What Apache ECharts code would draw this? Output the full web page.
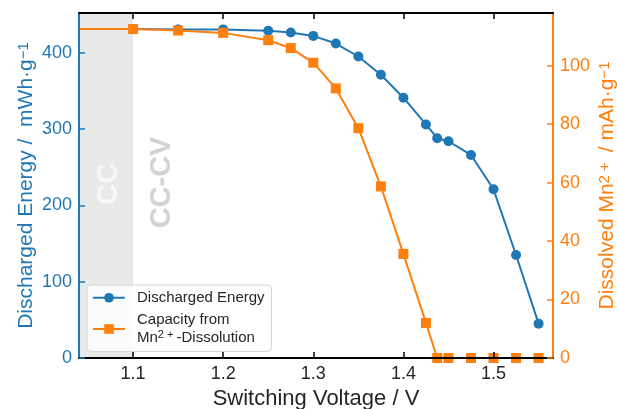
<!DOCTYPE html>
<html><head><meta charset="utf-8">
<script src="https://cdn.jsdelivr.net/npm/echarts@6/dist/echarts.min.js"></script>
<style>html,body{margin:0;padding:0;background:#fff}#c{width:617px;height:409px}</style>
</head><body><div id="c"></div>
<script>
// ---- data ----
const voltage    = [1.0, 1.1, 1.15, 1.2, 1.25, 1.275, 1.3, 1.325, 1.35, 1.375, 1.4, 1.425, 1.4375, 1.45, 1.475, 1.5, 1.525, 1.55];
const energy     = [431, 431, 430.5, 430.5, 428.8, 426.5, 422, 412, 395, 371, 341, 306, 288, 284, 266, 221, 135, 45];
const mnCapacity = [112.5, 112.5, 112, 111.2, 108.7, 106, 101, 92.2, 78.6, 58.7, 35.6, 12, 0, 0, 0, 0, 0, 0];
const xTicks      = [1.1, 1.2, 1.3, 1.4, 1.5];
const yLeftTicks  = [0, 100, 200, 300, 400];
const yRightTicks = [0, 20, 40, 60, 80, 100];
const seriesNames = ['Discharged Energy', 'Capacity from Mn2+-Dissolution'];
const ccRegion    = [1.04, 1.1];
const regionLabels = ['CC', 'CC-CV'];

const BLUE = '#1f77b4', ORANGE = '#ff7f0e', DARK = '#262626';
const FONT = 'Liberation Sans, Arial, sans-serif';
const X_MIN = 1.04, X_MAX = 1.566;

const chart = echarts.init(document.getElementById('c'), null, {renderer: 'canvas'});

function xAxisBase(pos) {
  return {
    type: 'value', min: X_MIN, max: X_MAX, position: pos, z: 5,
    axisLine: {show: true, onZero: false, lineStyle: {color: '#000', width: 2}},
    axisTick: {show: true, inside: true, length: 6, customValues: xTicks, lineStyle: {color: '#000', width: 1.5}},
    splitLine: {show: false}
  };
}

const option = {
  animation: false,
  backgroundColor: '#fff',
  grid: {left: 79, right: 64, top: 13, bottom: 51, containLabel: false, outerBoundsMode: 'none'},
  xAxis: [
    Object.assign(xAxisBase('bottom'), {
      axisLabel: {customValues: xTicks, margin: 7, fontSize: 18, color: DARK, fontFamily: FONT,
                  formatter: v => v.toFixed(1)},
      name: 'Switching Voltage / V', nameLocation: 'middle', nameGap: 30, nameMoveOverlap: false,
      nameTextStyle: {fontSize: 22, color: DARK, fontFamily: FONT}
    }),
    Object.assign(xAxisBase('top'), {axisLabel: {show: false}})
  ],
  yAxis: [
    {
      type: 'value', min: 0, max: 452, position: 'left', z: 5,
      axisLine: {show: true, lineStyle: {color: BLUE, width: 2}},
      axisTick: {show: true, inside: true, length: 6, customValues: yLeftTicks, lineStyle: {color: BLUE, width: 1.5}},
      axisLabel: {customValues: yLeftTicks, margin: 7, fontSize: 18, color: BLUE, fontFamily: FONT},
      splitLine: {show: false},
      name: 'Discharged Energy /  mWh·g{sup|−1}', nameLocation: 'middle', nameGap: 42, nameRotate: 90,
      nameMoveOverlap: false,
      nameTextStyle: {fontSize: 21, color: BLUE, fontFamily: FONT,
        rich: {sup: {fontSize: 15, color: BLUE, fontFamily: FONT, verticalAlign: 'top'}}}
    },
    {
      type: 'value', min: 0, max: 118, position: 'right', z: 5,
      axisLine: {show: true, lineStyle: {color: ORANGE, width: 2}},
      axisTick: {show: true, inside: true, length: 6, customValues: yRightTicks, lineStyle: {color: ORANGE, width: 1.5}},
      axisLabel: {customValues: yRightTicks, margin: 7, fontSize: 18, color: ORANGE, fontFamily: FONT},
      splitLine: {show: false},
      name: 'Dissolved Mn{sup|2 + } / mAh·g{sup|−1}', nameLocation: 'middle', nameGap: 44, nameRotate: 90,
      nameMoveOverlap: false,
      nameTextStyle: {fontSize: 21, color: ORANGE, fontFamily: FONT,
        rich: {sup: {fontSize: 15, color: ORANGE, fontFamily: FONT, verticalAlign: 'top'}}}
    }
  ],
  legend: {
    left: 87, top: 285, orient: 'vertical',
    itemWidth: 32, itemHeight: 12, itemGap: 5,
    padding: [4, 7, 5, 5],
    backgroundColor: 'rgba(255,255,255,0.8)', borderColor: '#d6d6d6', borderWidth: 1, borderRadius: 4,
    data: seriesNames,
    formatter: n => n === seriesNames[1] ? 'Capacity from\nMn{sup|2 + }-Dissolution' : n,
    textStyle: {fontSize: 15, color: DARK, fontFamily: FONT, lineHeight: 17.5, padding: [0, 0, 0, 7],
      rich: {sup: {fontSize: 11, color: DARK, fontFamily: FONT, verticalAlign: 'top'}}}
  },
  series: [
    {
      name: 'region', type: 'line', data: [], z: 1, silent: true,
      markArea: {silent: true, itemStyle: {color: '#e9e9e9'}, label: {show: false},
        data: [[{xAxis: ccRegion[0]}, {xAxis: ccRegion[1]}]]}
    },
    {
      name: seriesNames[0], type: 'line', xAxisIndex: 0, yAxisIndex: 0, z: 2, clip: true,
      data: voltage.map((v, i) => [v, energy[i]]),
      symbol: 'circle', symbolSize: 10,
      itemStyle: {color: BLUE}, lineStyle: {color: BLUE, width: 2}
    },
    {
      name: seriesNames[1], type: 'line', xAxisIndex: 0, yAxisIndex: 1, z: 3, clip: true,
      data: voltage.map((v, i) => [v, mnCapacity[i]]),
      symbol: 'rect', symbolSize: 10,
      itemStyle: {color: ORANGE}, lineStyle: {color: ORANGE, width: 2}
    }
  ]
};
chart.setOption(option);

const pCC = chart.convertToPixel({xAxisIndex: 0, yAxisIndex: 0}, [(ccRegion[0] + ccRegion[1]) / 2, 228]);
const pCV = chart.convertToPixel({xAxisIndex: 0, yAxisIndex: 0}, [1.132, 230]);
chart.setOption({
  graphic: [
    {type: 'text', x: pCC[0] + 3, y: pCC[1], rotation: Math.PI / 2, z: 4, silent: true,
     style: {text: regionLabels[0], fontSize: 29, fontWeight: 'bold', fontFamily: FONT, fill: '#f7f7f7', align: 'center', verticalAlign: 'middle'}},
    {type: 'text', x: pCV[0], y: pCV[1], rotation: Math.PI / 2, z: 4, silent: true,
     style: {text: regionLabels[1], fontSize: 29, fontWeight: 'bold', fontFamily: FONT, fill: '#d3d3d3', align: 'center', verticalAlign: 'middle'}}
  ]
});
</script>
</body></html>
